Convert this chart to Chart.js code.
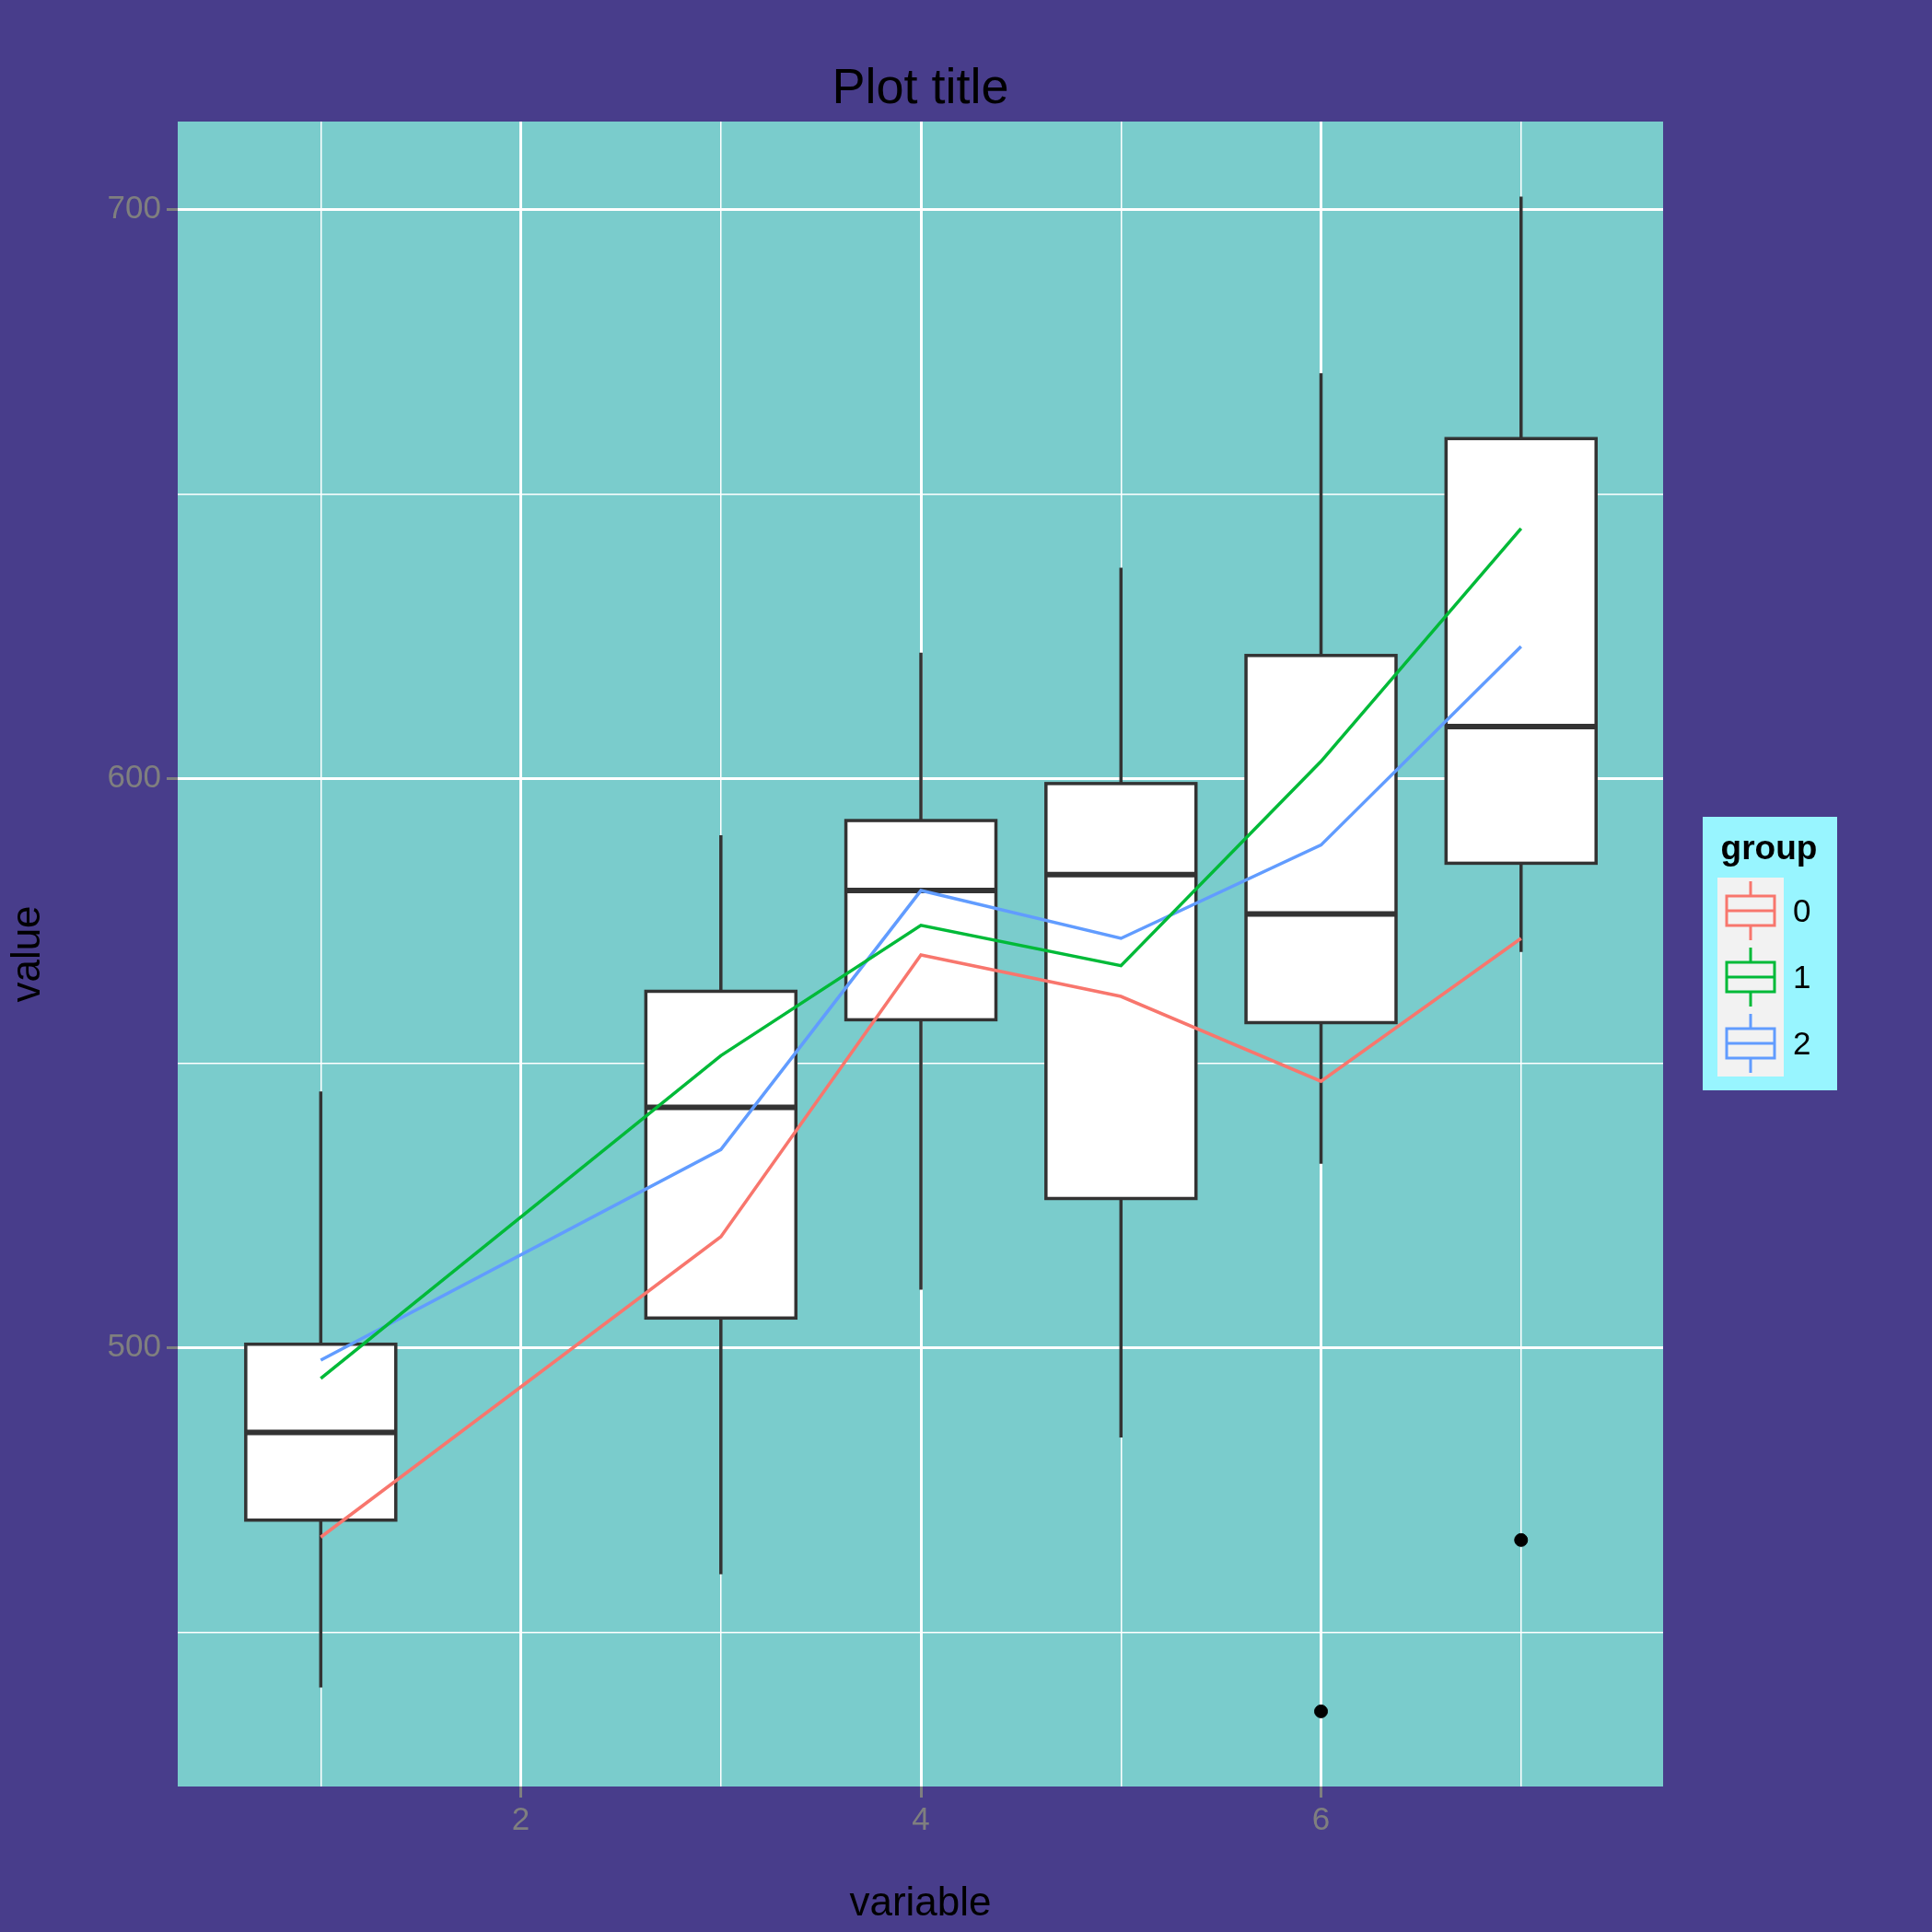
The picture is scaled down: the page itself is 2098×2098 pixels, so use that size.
<!DOCTYPE html>
<html>
<head>
<meta charset="utf-8">
<script src="https://cdn.jsdelivr.net/npm/chart.js@4.4.0/dist/chart.umd.min.js"></script>
<style>
  html, body { margin: 0; padding: 0; background: #483D8B; }
  canvas { display: block; }
</style>
</head>
<body>
<canvas id="chart" width="2098" height="2098"></canvas>
<script>
// box positions and stats
const boxX = [1, 3, 4, 5, 6, 7];
const boxLow = [440.3, 460.2, 510.2, 484.2, 532.3, 569.5];
const boxQ1 = [469.7, 505.2, 557.6, 526.2, 557.1, 585.1];
const boxMed = [485.1, 542.2, 580.3, 583.1, 576.2, 609.1];
const boxQ3 = [500.6, 562.6, 592.6, 599.1, 621.6, 659.7];
const boxHigh = [545.0, 590.0, 622.1, 637.0, 671.2, 702.2];
const outlierX = [6, 7];
const outlierY = [436.1, 466.2];

// group lines
const groups = ['0', '1', '2'];
const group0 = [466.7, 519.5, 569.0, 561.7, 546.8, 571.9];
const group1 = [494.6, 551.3, 574.2, 567.1, 603.0, 643.9];
const group2 = [497.8, 534.8, 580.3, 571.9, 588.3, 623.2];
const groupColors = ['#F8766D', '#00BA38', '#619CFF'];

const yTicks = [450, 500, 550, 600, 650, 700];
const xTicks = [1, 2, 3, 4, 5, 6, 7];

const BOX_W = 0.375;

const boxPlugin = {
    id: 'boxes',
    beforeDraw(chart) {
        const c = chart.ctx;
        c.save();
        c.fillStyle = '#483D8B';
        c.fillRect(0, 0, chart.width, chart.height);
        const a = chart.chartArea;
        c.fillStyle = '#7ACCCC';
        c.fillRect(a.left, a.top, a.right - a.left, a.bottom - a.top);
        c.restore();
    },
    beforeDatasetsDraw(chart) {
        const c = chart.ctx;
        const xs = chart.scales.x, ys = chart.scales.y;
        c.save();
        c.strokeStyle = '#333333';
        boxX.forEach((x, i) => {
            const cx = xs.getPixelForValue(x);
            const l = xs.getPixelForValue(x - BOX_W), r = xs.getPixelForValue(x + BOX_W);
            const q1 = ys.getPixelForValue(boxQ1[i]), q3 = ys.getPixelForValue(boxQ3[i]);
            c.lineWidth = 3.5;
            c.beginPath();
            c.moveTo(cx, ys.getPixelForValue(boxHigh[i])); c.lineTo(cx, q3);
            c.moveTo(cx, q1); c.lineTo(cx, ys.getPixelForValue(boxLow[i]));
            c.stroke();
            c.fillStyle = '#ffffff';
            c.fillRect(l, q3, r - l, q1 - q3);
            c.strokeRect(l, q3, r - l, q1 - q3);
            c.lineWidth = 6;
            const m = ys.getPixelForValue(boxMed[i]);
            c.beginPath(); c.moveTo(l, m); c.lineTo(r, m); c.stroke();
        });
        c.restore();
    },
    afterDraw(chart) {
        const c = chart.ctx;
        c.save();
        c.fillStyle = '#000000';
        c.font = '54px "Liberation Sans", Arial, sans-serif';
        c.textAlign = 'center';
        c.textBaseline = 'middle';
        const a = chart.chartArea;
        c.fillText('Plot title', (a.left + a.right) / 2, 97);

        // legend
        const lx = 1849, ly = 887;
        c.fillStyle = '#98F5FF';
        c.fillRect(lx, ly, 146, 297);
        c.fillStyle = '#000';
        c.font = 'bold 37px "Liberation Sans", Arial, sans-serif';
        c.fillText('group', lx + 72, ly + 36);
        groups.forEach((g, i) => {
            const kx = lx + 16, ky = ly + 66 + i * 72;
            c.fillStyle = '#F2F2F2';
            c.fillRect(kx, ky, 72, 72);
            c.strokeStyle = groupColors[i];
            c.lineWidth = 3;
            c.beginPath();
            c.moveTo(kx + 36, ky + 4); c.lineTo(kx + 36, ky + 68);
            c.stroke();
            c.fillStyle = '#F2F2F2';
            c.fillRect(kx + 10, ky + 20, 52, 32);
            c.strokeRect(kx + 10, ky + 20, 52, 32);
            c.beginPath(); c.moveTo(kx + 10, ky + 36); c.lineTo(kx + 62, ky + 36); c.stroke();
            c.fillStyle = '#000';
            c.font = '35px "Liberation Sans", Arial, sans-serif';
            c.textAlign = 'left';
            c.fillText(g, kx + 82, ky + 38);
            c.textAlign = 'center';
        });
        c.restore();
    }
};

const lineSets = [group0, group1, group2].map((vals, i) => ({
    type: 'line',
    label: groups[i],
    data: boxX.map((x, j) => ({ x: x, y: vals[j] })),
    borderColor: groupColors[i],
    borderWidth: 3.5,
    pointRadius: 0,
    fill: false,
    tension: 0
}));

const tickFont = { family: '"Liberation Sans", Arial, sans-serif', size: 35 };
const titleFont = { family: '"Liberation Sans", Arial, sans-serif', size: 44 };

new Chart(document.getElementById('chart').getContext('2d'), {
    type: 'scatter',
    data: {
        datasets: [
            ...lineSets,
            {
                type: 'scatter',
                label: 'outliers',
                data: outlierX.map((x, i) => ({ x: x, y: outlierY[i] })),
                backgroundColor: '#000',
                borderColor: '#000',
                pointRadius: 7
            }
        ]
    },
    options: {
        responsive: false,
        animation: false,
        devicePixelRatio: 1,
        layout: { padding: { left: 0, right: 292, top: 132, bottom: 0 } },
        plugins: { legend: { display: false }, tooltip: { enabled: false } },
        scales: {
            x: {
                type: 'linear',
                min: 0.285,
                max: 7.71,
                afterBuildTicks: s => { s.ticks = xTicks.map(v => ({ value: v })); },
                afterFit: s => { s.height = 158; },
                grid: {
                    color: '#ffffff',
                    lineWidth: ctx => (ctx.tick && ctx.tick.value % 2 === 0) ? 3 : 1.5,
                    tickColor: ctx => (ctx.tick && ctx.tick.value % 2 === 0) ? '#7f7f7f' : 'rgba(0,0,0,0)',
                    tickLength: 12,
                    drawTicks: true
                },
                border: { display: false },
                ticks: {
                    color: '#7f7f7f',
                    font: tickFont,
                    padding: 4,
                    callback: v => (v % 2 === 0 ? v : '')
                },
                title: { display: true, text: 'variable', color: '#000', font: titleFont, padding: { top: 0 } }
            },
            y: {
                min: 422.9,
                max: 715.4,
                afterBuildTicks: s => { s.ticks = yTicks.map(v => ({ value: v })); },
                afterFit: s => { s.width = 193; },
                grid: {
                    color: '#ffffff',
                    lineWidth: ctx => (ctx.tick && ctx.tick.value % 100 === 0) ? 3 : 1.5,
                    tickColor: ctx => (ctx.tick && ctx.tick.value % 100 === 0) ? '#7f7f7f' : 'rgba(0,0,0,0)',
                    tickLength: 12
                },
                border: { display: false },
                ticks: {
                    color: '#7f7f7f',
                    font: tickFont,
                    padding: 6,
                    callback: v => (v % 100 === 0 ? v : '')
                },
                title: { display: true, text: 'value', color: '#000', font: titleFont, padding: { bottom: 0 } }
            }
        }
    },
    plugins: [boxPlugin]
});
</script>
</body>
</html>
